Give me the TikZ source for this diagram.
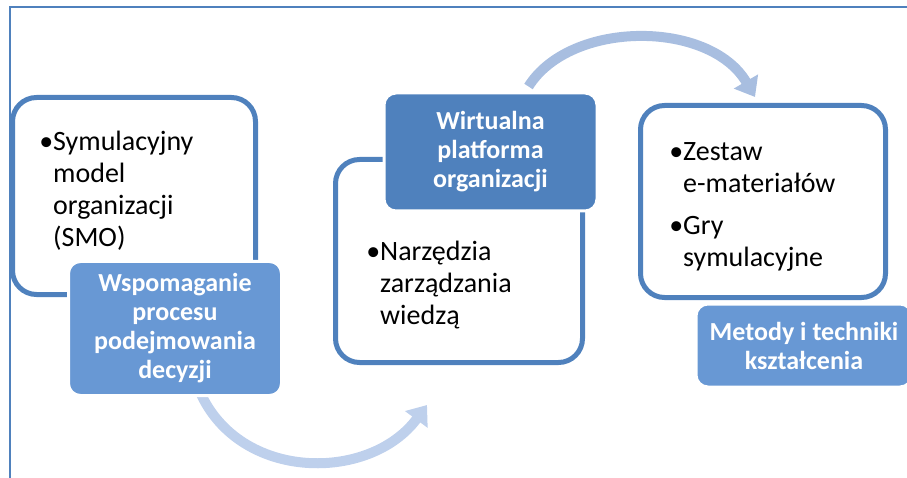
\documentclass[tikz,border=0pt]{standalone}
\usepackage{fontspec}
\setmainfont{Carlito}
\usetikzlibrary{arrows.meta,backgrounds}

\definecolor{boxblue}{HTML}{4F81BD}
\definecolor{titleblue}{HTML}{6898D4}
\definecolor{flowtop}{HTML}{A8BEE0}
\definecolor{flowbottom}{HTML}{BED0EC}

\tikzset{
	itembox/.style={draw=boxblue, line width=5pt, fill=white, rounded corners=24pt},
	titlebox/.style={fill=titleblue, draw=white, line width=3pt, rounded corners=12pt,
		text=white, align=center, inner sep=0pt,
		font=\fontsize{26}{29}\selectfont\bfseries},
	itemtext/.style={anchor=north west, inner sep=0pt, align=left,
		font=\fontsize{28}{32}\selectfont},
	flow/.style={line width=10pt, -{Triangle[width=27pt,length=18pt]}}
}

\begin{document}
\begin{tikzpicture}[x=1pt,y=-1pt]
	\clip (0,0) rectangle (907,478);

	\node[itembox, minimum width=243, minimum height=197] (smo) at (134,196) {};
	\node[itembox, minimum width=247, minimum height=203] (narzedzia) at (459,261) {};
	\node[itembox, minimum width=245, minimum height=192] (materialy) at (763,201.5) {};

	\node[itemtext] (smotext) at (53,131) {\llap{•}Symulacyjny\\model\\organizacji\\(SMO)};
	\node[itemtext] (narzedziatext) at (380,241) {\llap{•}Narzędzia\\zarządzania\\wiedzą};
	\node[itemtext] (materialytext) at (683,142) {\llap{•}Zestaw\\e-materiałów\\[10pt]\llap{•}Gry\\symulacyjne};

	\node[titlebox, minimum width=213, minimum height=134] (decyzje) at (175,328.5) {Wspomaganie\\procesu\\podejmowania\\decyzji};
	\node[titlebox, fill=boxblue, minimum width=213, minimum height=118] (platforma) at (490.5,152) {Wirtualna\\platforma\\organizacji};
	\node[titlebox, minimum width=216, minimum height=83] (metody) at (804,345.5) {Metody i techniki\\kształcenia};

	\begin{scope}[on background layer]
		\draw[boxblue, line width=2pt] (10,478) -- (10,7) -- (907,7);
		\draw[flow, flowtop] ([shift={(38,-5)}]platforma.north) .. controls +(42,-67) and +(-45,-77) .. ([shift={(-8,-6)}]materialy.north);
		\draw[flow, flowbottom] ([shift={(25,-5)}]decyzje.south) .. controls +(40,90) and +(-57,77) .. ([shift={(-32,40)}]narzedzia.south);
	\end{scope}
\end{tikzpicture}
\end{document}
